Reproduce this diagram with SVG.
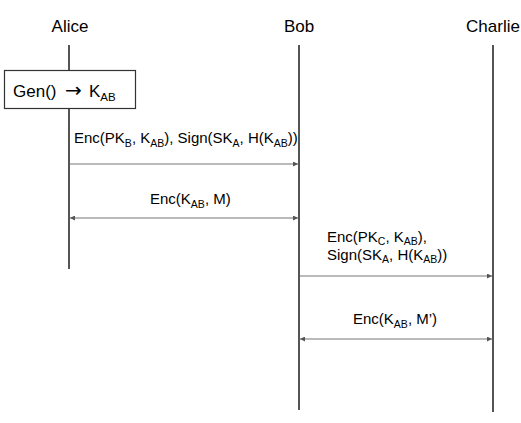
<svg xmlns="http://www.w3.org/2000/svg" width="521" height="423" viewBox="0 0 521 423">
<style>
text{font-family:"Liberation Sans",Arial,sans-serif;fill:#000}
.name{font-size:17px;text-anchor:middle}
.lbl{font-size:15px}
.life{stroke:#555;stroke-width:2;fill:none}
.msg{stroke:#777;stroke-width:1.2;fill:none}
.sub{font-size:10.5px}
</style>
<defs>
<marker id="ah" viewBox="0 0 10 10" refX="10" refY="5" markerWidth="5" markerHeight="5" orient="auto-start-reverse" markerUnits="userSpaceOnUse">
<path d="M0,0L10,5L0,10z" fill="#555"/>
</marker>
</defs>
<rect width="521" height="423" fill="#fff"/>
<g id="alice">
<text class="name" x="70" y="32">Alice</text>
<line class="life" x1="69" y1="45" x2="69" y2="70"/>
<line class="life" x1="69" y1="109" x2="69" y2="269"/>
</g>
<g id="gen">
<rect x="4.5" y="70.5" width="131" height="38" fill="#fff" stroke="#333" stroke-width="1.2"/>
<text x="13" y="97" font-size="17">Gen()<tspan x="65" font-family="'DejaVu Sans',sans-serif" font-size="20">→</tspan><tspan x="89">K</tspan><tspan font-size="11.5" dy="4">AB</tspan></text>
</g>
<g id="bob">
<text class="name" x="299" y="32">Bob</text>
<line class="life" x1="299" y1="45" x2="299" y2="410"/>
</g>
<g id="charlie">
<text class="name" x="493" y="32">Charlie</text>
<line class="life" x1="493" y1="45" x2="493" y2="412"/>
</g>
<g id="connectors">
<line class="msg" x1="70" y1="164" x2="298" y2="164" marker-end="url(#ah)"/>
<line class="msg" x1="70" y1="218" x2="298" y2="218" marker-start="url(#ah)" marker-end="url(#ah)"/>
<line class="msg" x1="300" y1="276" x2="492" y2="276" marker-end="url(#ah)"/>
<line class="msg" x1="300" y1="339" x2="492" y2="339" marker-start="url(#ah)" marker-end="url(#ah)"/>
</g>
<g id="labels">
<text class="lbl" x="74" y="143">Enc(PK<tspan class="sub" dy="4">B</tspan><tspan dy="-4">, K</tspan><tspan class="sub" dy="4">AB</tspan><tspan dy="-4">), Sign(SK</tspan><tspan class="sub" dy="4">A</tspan><tspan dy="-4">, H(K</tspan><tspan class="sub" dy="4">AB</tspan><tspan dy="-4">))</tspan></text>
<text class="lbl" x="150" y="204">Enc(K<tspan class="sub" dy="4">AB</tspan><tspan dy="-4">, M)</tspan></text>
<text class="lbl" x="327" y="242">Enc(PK<tspan class="sub" dy="3">C</tspan><tspan dy="-3">, K</tspan><tspan class="sub" dy="3">AB</tspan><tspan dy="-3">),</tspan></text>
<text class="lbl" x="327" y="260">Sign(SK<tspan class="sub" dy="3">A</tspan><tspan dy="-3">, H(K</tspan><tspan class="sub" dy="3">AB</tspan><tspan dy="-3">))</tspan></text>
<text class="lbl" x="353" y="324">Enc(K<tspan class="sub" dy="4">AB</tspan><tspan dy="-4">, M’)</tspan></text>
</g>
</svg>
